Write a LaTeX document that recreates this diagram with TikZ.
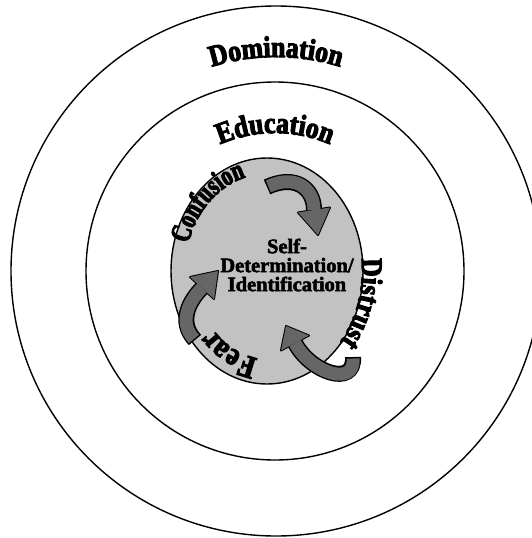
\documentclass[tikz,border=0pt]{standalone}
\usepackage{fontspec}
\setmainfont{Liberation Serif}
\newfontfamily\heavya{Liberation Serif}[BoldFeatures={FakeBold=3.5, FakeStretch=0.86}]
\newfontfamily\heavyb{Liberation Serif}[BoldFeatures={FakeBold=3.5, FakeStretch=0.72}]
\newfontfamily\heavyd{Liberation Serif}[BoldFeatures={FakeBold=3.5, FakeStretch=0.85}]
\newfontfamily\heavyc{Liberation Serif}[BoldFeatures={FakeBold=2.5}]
\usetikzlibrary{decorations.text}
\newcommand\wafont{\heavya\bfseries\fontsize{30}{30}\selectfont}
\newcommand\wbfont{\heavyb\bfseries\fontsize{29}{29}\selectfont}
\newcommand\wdfont{\heavyd\bfseries\fontsize{30}{30}\selectfont}
\newcommand\wefont{\heavyd\bfseries\fontsize{32}{32}\selectfont}
\newcommand\wcfont{\heavyc\bfseries\fontsize{20.5}{19}\selectfont}
\definecolor{discgray}{gray}{0.76}
\definecolor{arrowgray}{gray}{0.40}
\tikzset{
  ring/.style={draw=black, line width=1.4pt},
  arctext/.style={decorate, decoration={text along path, text align=center, text={#1}}},
  bodyout/.style={draw=black, line width=16pt},
  bodyin/.style={draw=arrowgray, line width=13pt, shorten <=1.5pt},
  headout/.style={fill=black, draw=black, line width=2pt, line join=round},
  headin/.style={fill=arrowgray},
}
\begin{document}
\begin{tikzpicture}[x=1pt,y=-1pt]
\useasboundingbox (0,0) rectangle (532,538);
\clip (0,0) rectangle (532,538);
\fill[white] (0,0) rectangle (532,538);
% rings
\draw[ring] (276,271) circle[radius=265];
\draw[ring] (275,271) circle[radius=189];
\filldraw[ring, fill=discgray] (267,271) ellipse[x radius=96, y radius=113];
% ring labels
\path[arctext={|\wafont|Domination}] (276,271) ++(-120:214) arc[start angle=-120, end angle=-60, radius=214];
\path[arctext={|\wafont|Education}] (275,271) ++(-128:138) arc[start angle=-128, end angle=-52, radius=138];
% inner labels
\path[arctext={|\wbfont|Confusion}] (267,271) ++(182:82 and 97) arc[start angle=182, end angle=272, x radius=82, y radius=97];
\path[arctext={|\wdfont|Distrust}] (267,271) ++(-28:95 and 111) arc[start angle=-28, end angle=63, x radius=95, y radius=111];
\path[arctext={|\wefont|Fear}] (267,271) ++(84:72 and 88) arc[start angle=84, end angle=150, x radius=72, y radius=88];
% centre text
\node[align=center, font=\wcfont, inner sep=0pt] (core) at (287,265) {Self-\\Determination/\\Identification};
% arrows: top
\draw[bodyout] (267,187) .. controls (295,174) and (314,188) .. (314,210);
\filldraw[headout] (330,207.5) -- (318,235) -- (298,212.5) -- cycle;
\draw[bodyin] (267,187) .. controls (295,174) and (314,188) .. (314,210);
\fill[headin] (330,207.5) -- (318,235) -- (298,212.5) -- cycle;
% arrows: bottom right
\draw[bodyout] (353,357) .. controls (355,388) and (310,372) .. (295,343);
\filldraw[headout] (309,335.5) -- (286,326) -- (281,350.5) -- cycle;
\draw[bodyin] (353,357) .. controls (355,388) and (310,372) .. (295,343);
\fill[headin] (309,335.5) -- (286,326) -- (281,350.5) -- cycle;
% arrows: left
\draw[bodyout] (195,340) .. controls (178,322) and (189,301) .. (202,288);
\filldraw[headout] (214,299) -- (218,271) -- (190,277) -- cycle;
\draw[bodyin] (195,340) .. controls (178,322) and (189,301) .. (202,288);
\fill[headin] (214,299) -- (218,271) -- (190,277) -- cycle;
\end{tikzpicture}
\end{document}
